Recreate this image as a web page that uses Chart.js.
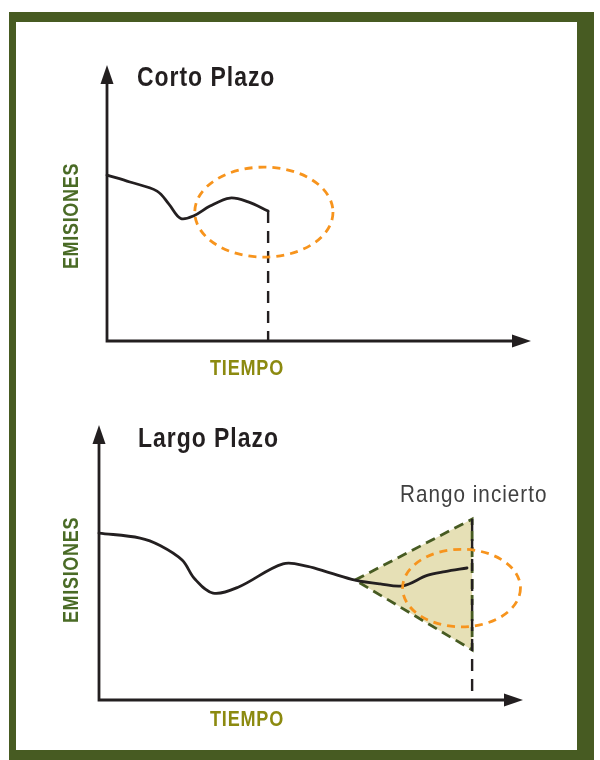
<!DOCTYPE html>
<html><head><meta charset="utf-8">
<script src="https://cdn.jsdelivr.net/npm/chart.js@4.4.1/dist/chart.umd.min.js"></script>
<style>
html,body{margin:0;padding:0;background:#fff;}
#frame{position:absolute;left:9px;top:12px;width:561px;height:728px;border-style:solid;border-color:#475b22;border-width:10px 17px 10px 7px;background:#fff;}
canvas{position:absolute;left:0;}
#c1{top:0}
#c2{top:380px}
</style></head><body>
<div id="frame"></div>
<canvas id="c1" width="600" height="380"></canvas>
<canvas id="c2" width="600" height="380"></canvas>
<script>
// ---- data (abstract units: tiempo 0..100, emisiones 0..100) ----
const shortTime = [0, 5.4, 11.8, 14.6, 17.4, 20.5, 24.3, 29.0, 33.3, 38.0];
const shortEmis = [60.1, 57.6, 54.3, 49.6, 44.4, 45.4, 48.9, 51.8, 50.4, 47.1];
const shortHorizonTime = [38.0, 38.0];
const shortHorizonEmis = [47.1, 0];
const shortFocusCenter = [37.0, 46.7];
const shortFocusRadius = [16.3, 16.3];

const longTime = [0, 9.7, 14.4, 19.6, 22.6, 26.9, 32.8, 43.4, 49.2, 54.5, 60.4, 66.3, 71.7, 77.4, 81.6, 86.8];
const longEmis = [60.7, 58.9, 56.2, 50.9, 44.0, 38.9, 41.0, 49.5, 48.6, 46.2, 43.6, 42.2, 41.5, 45.3, 46.7, 48.0];
const rangeTime = [60.4, 88.0, 88.0, 60.4];
const rangeEmis = [43.6, 65.8, 18.2, 43.6];
const longHorizonTime = [88.0, 88.0];
const longHorizonEmis = [65.8, 0];
const longFocusCenter = [85.5, 40.7];
const longFocusRadius = [13.9, 14.1];

const axisMin = [0, 0];
const axisMax = [100, 100];

// ---- styling ----
const INK = '#231f20';
const ORANGE = '#f7941d';
const DARKGREEN = '#475b22';
const TAN = '#e6e0b6';
const LABELGREEN = '#4a6b26';
const OLIVE = '#8c8a10';
const FAMILY = "'Liberation Sans', Arial, sans-serif";
const NARROW_SCALE = 0.82;

const pts = (xs, ys) => xs.map((x, i) => ({x, y: ys[i]}));

function narrowText(ctx, text, x, y, opt) {
  ctx.save();
  ctx.fillStyle = opt.color;
  ctx.font = opt.font;
  if ('letterSpacing' in ctx) ctx.letterSpacing = opt.spacing || '0px';
  ctx.textAlign = opt.align || 'left';
  ctx.textBaseline = 'alphabetic';
  ctx.translate(x, y);
  if (opt.rotate) ctx.rotate(opt.rotate);
  ctx.scale(opt.scale || NARROW_SCALE, 1);
  ctx.fillText(text, 0, 0);
  ctx.restore();
}

const decor = {
  id: 'decor',
  beforeDatasetsDraw(chart, args, o) {
    const ctx = chart.ctx, xs = chart.scales.x, ys = chart.scales.y;
    const x0 = xs.getPixelForValue(axisMin[0]), x1 = xs.getPixelForValue(axisMax[0]);
    const y0 = ys.getPixelForValue(axisMin[1]), y1 = ys.getPixelForValue(axisMax[1]);
    const L = 19, W = 6.5;
    ctx.save();
    ctx.strokeStyle = INK; ctx.fillStyle = INK; ctx.lineWidth = 2.8; ctx.lineCap = 'butt';
    ctx.beginPath();
    ctx.moveTo(x0, y1 + L - 2); ctx.lineTo(x0, y0); ctx.lineTo(x1 - L + 2, y0);
    ctx.stroke();
    ctx.beginPath();
    ctx.moveTo(x0, y1); ctx.lineTo(x0 - W, y1 + L); ctx.lineTo(x0 + W, y1 + L); ctx.closePath(); ctx.fill();
    ctx.beginPath();
    ctx.moveTo(x1, y0); ctx.lineTo(x1 - L, y0 - W); ctx.lineTo(x1 - L, y0 + W); ctx.closePath(); ctx.fill();
    ctx.restore();
  },
  afterDatasetsDraw(chart, args, o) {
    const ctx = chart.ctx, xs = chart.scales.x, ys = chart.scales.y;
    // focus ellipse
    const c = o.focusCenter, r = o.focusRadius;
    const cx = xs.getPixelForValue(c[0]), cy = ys.getPixelForValue(c[1]);
    const rx = Math.abs(xs.getPixelForValue(c[0] + r[0]) - cx);
    const ry = Math.abs(ys.getPixelForValue(c[1] + r[1]) - cy);
    ctx.save();
    ctx.strokeStyle = ORANGE; ctx.lineWidth = 2.8; ctx.setLineDash([8, 6]);
    ctx.beginPath(); ctx.ellipse(cx, cy, rx, ry, 0, 0, Math.PI * 2); ctx.stroke();
    ctx.restore();
    // texts
    narrowText(ctx, o.title.text, o.title.x, o.title.y, {font: 'bold 28px ' + FAMILY, color: INK, spacing: '1.2px'});
    narrowText(ctx, 'TIEMPO', o.xLabel.x, o.xLabel.y, {font: 'bold 22px ' + FAMILY, color: OLIVE, spacing: '1px', align: 'center'});
    narrowText(ctx, 'EMISIONES', o.yLabel.x, o.yLabel.y, {font: 'bold 22px ' + FAMILY, color: LABELGREEN, spacing: '0.8px', align: 'center', rotate: -Math.PI / 2});
    if (o.note) {
      narrowText(ctx, o.note.text, o.note.x, o.note.y, {font: '24px ' + FAMILY, color: '#404040', spacing: '1.2px', scale: 0.86});
    }
  }
};

function makeChart(id, datasets, deco, padding) {
  return new Chart(document.getElementById(id), {
    type: 'scatter',
    data: {datasets},
    options: {
      responsive: false, animation: false, devicePixelRatio: 1,
      layout: {padding},
      plugins: {legend: {display: false}, tooltip: {enabled: false}, decor: deco},
      scales: {
        x: {type: 'linear', min: axisMin[0], max: axisMax[0], display: false},
        y: {type: 'linear', min: axisMin[1], max: axisMax[1], display: false}
      },
      elements: {point: {radius: 0, hoverRadius: 0}}
    },
    plugins: [decor]
  });
}

makeChart('c1', [
  {data: pts(shortTime, shortEmis), showLine: true, borderColor: INK, borderWidth: 2.8, tension: 0.35, borderCapStyle: 'round', order: 1, clip: false},
  {data: pts(shortHorizonTime, shortHorizonEmis), showLine: true, borderColor: INK, borderWidth: 2.4, borderDash: [12, 8], order: 2, clip: false}
], {
  focusCenter: shortFocusCenter, focusRadius: shortFocusRadius,
  title: {text: 'Corto Plazo', x: 137, y: 86},
  xLabel: {x: 247, y: 375},
  yLabel: {x: 78, y: 216}
}, {left: 107, right: 69, top: 65, bottom: 39});

makeChart('c2', [
  {data: pts(longTime, longEmis), showLine: true, borderColor: INK, borderWidth: 2.8, tension: 0.35, borderCapStyle: 'round', order: 1, clip: false},
  {data: pts(longHorizonTime, longHorizonEmis), showLine: true, borderColor: INK, borderWidth: 2.4, borderDash: [12, 8], order: 2, clip: false},
  {data: pts(rangeTime, rangeEmis), showLine: true, borderColor: DARKGREEN, borderWidth: 2.8, borderDash: [10, 6], backgroundColor: TAN, fill: 'shape', tension: 0, order: 3, clip: false}
], {
  focusCenter: longFocusCenter, focusRadius: longFocusRadius,
  title: {text: 'Largo Plazo', x: 138, y: 67},
  xLabel: {x: 247, y: 346},
  yLabel: {x: 78, y: 190},
  note: {text: 'Rango incierto', x: 400, y: 122}
}, {left: 99, right: 77, top: 45, bottom: 60});
</script>
</body></html>
